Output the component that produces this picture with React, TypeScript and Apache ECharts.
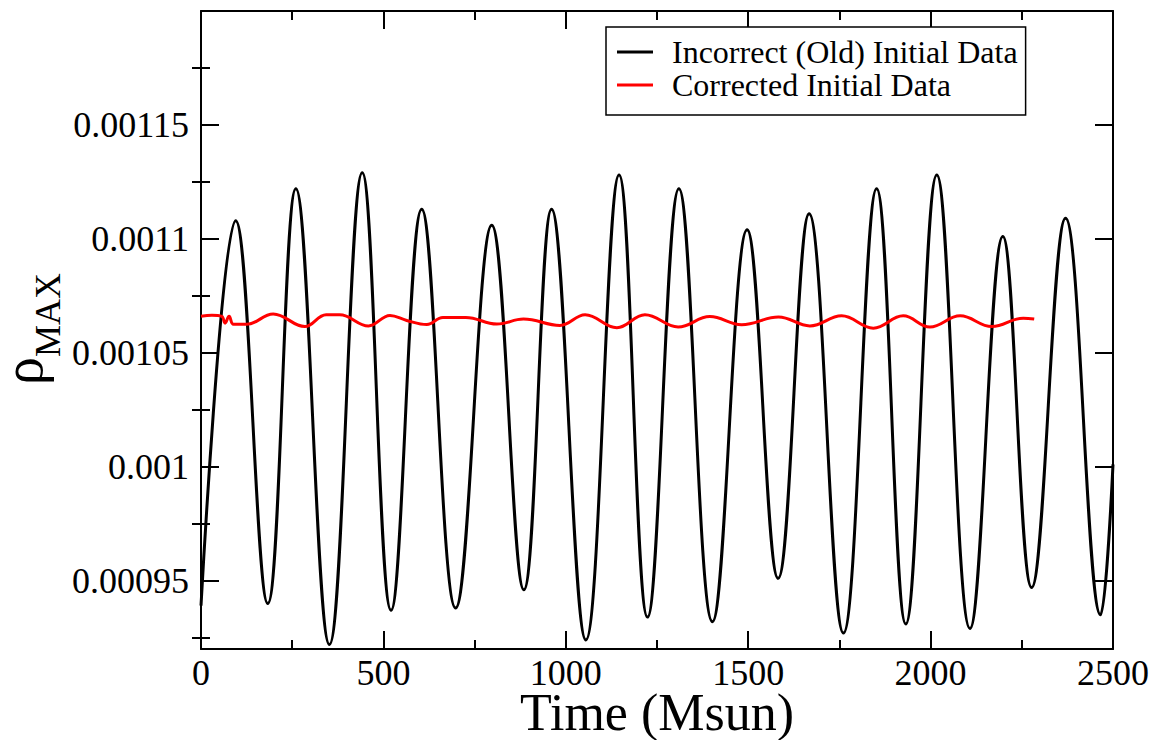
import React, { useEffect, useRef } from "react";
import * as echarts from "echarts";

// Incorrect (Old) Initial Data: time (Msun) and rho_max at the extrema
const oldTime = [0, 95, 183, 260, 352, 442, 521, 605, 698, 797, 885, 961, 1055, 1146, 1224, 1310, 1402, 1497, 1582, 1667, 1761, 1852, 1932, 2017, 2108, 2198, 2277, 2370, 2466, 2500];
const oldRho = [0.000939, 0.001108, 0.00094, 0.001122, 0.000922, 0.001129, 0.000937, 0.001113, 0.000938, 0.001106, 0.000946, 0.001113, 0.000924, 0.001128, 0.000934, 0.001122, 0.000932, 0.001104, 0.000951, 0.001111, 0.000927, 0.001122, 0.000931, 0.001128, 0.000929, 0.001101, 0.000947, 0.001109, 0.000935, 0.001001];

// Corrected Initial Data
const newTime = [0, 30, 57, 66, 77, 89, 125, 198, 285, 343, 380, 459, 518, 564, 619, 663, 726, 811, 884, 984, 1053, 1140, 1217, 1308, 1395, 1482, 1583, 1669, 1756, 1843, 1925, 1998, 2081, 2168, 2254, 2284];
const newRho = [0.001066, 0.0010665, 0.001066, 0.001063, 0.001066, 0.0010625, 0.0010625, 0.001067, 0.0010615, 0.0010667, 0.0010667, 0.0010618, 0.0010664, 0.0010642, 0.0010624, 0.0010655, 0.0010655, 0.0010626, 0.0010648, 0.001062, 0.0010667, 0.001061, 0.0010667, 0.0010613, 0.0010659, 0.0010623, 0.0010657, 0.0010618, 0.0010662, 0.0010608, 0.0010662, 0.0010613, 0.0010662, 0.0010615, 0.0010652, 0.0010648];

const seriesNames = ["Incorrect (Old) Initial Data", "Corrected Initial Data"];
const seriesColors = ["#000000", "#ff0000"];

const xMin = 0;
const xMax = 2500;
const xInterval = 500;
const yMin = 0.00092;
const yMax = 0.0012;
const yMajorTicks = [0.00095, 0.001, 0.00105, 0.0011, 0.00115];
const yMinorTicks = [0.000925, 0.000975, 0.001025, 0.001075, 0.001125, 0.001175];

const xTitle = "Time (Msun)";
const yTitleMain = "ρ";
const yTitleSub = "MAX";

export default function App() {
  const ref = useRef<HTMLDivElement>(null);
  useEffect(() => {
    if (!ref.current) return;
    const chart = echarts.init(ref.current, null, { renderer: "svg" });
    const fontFamily = "Liberation Serif";
    const black = "#000";
    const lineStyle = { color: black, width: 2 };
    const majorTick = { show: true, inside: true, length: 18, lineStyle };
    const fmtY = (v: number) => parseFloat(Number(v).toPrecision(6)).toString();
    const fmtX = (v: number) => String(Math.round(Number(v)));

    const xBase: any = {
      type: "value",
      min: xMin,
      max: xMax,
      interval: xInterval,
      splitLine: { show: false },
      axisLine: { show: true, onZero: false, lineStyle },
      axisTick: majorTick,
      minorTick: { show: true, splitNumber: 2, length: 9, lineStyle },
    };
    const yBase: any = {
      type: "value",
      min: yMin,
      max: yMax,
      splitLine: { show: false },
    };

    chart.setOption({
      animation: false,
      backgroundColor: "#ffffff",
      grid: { left: 201, right: 46, top: 11, bottom: 91, containLabel: false, outerBoundsMode: "none" },
      xAxis: [
        {
          ...xBase,
          position: "bottom",
          axisLabel: { fontFamily, fontSize: 36, lineHeight: 36, color: black, margin: 6, formatter: fmtX },
          name: xTitle,
          nameLocation: "middle",
          nameGap: 43,
          nameMoveOverlap: false,
          nameTextStyle: { fontFamily, fontSize: 52, lineHeight: 40, color: black },
        },
        { ...xBase, position: "top", axisLabel: { show: false } },
      ],
      yAxis: [
        {
          ...yBase,
          position: "left",
          axisLine: { show: true, onZero: false, lineStyle },
          axisTick: { ...majorTick, customValues: yMajorTicks },
          axisLabel: { customValues: yMajorTicks, formatter: fmtY, fontFamily, fontSize: 36, color: black, margin: 12 },
        },
        {
          ...yBase,
          position: "left",
          axisLine: { show: false },
          axisTick: { show: true, inside: true, length: 9, lineStyle, customValues: yMinorTicks },
          axisLabel: { show: false },
        },
        {
          ...yBase,
          position: "right",
          axisLine: { show: true, onZero: false, lineStyle },
          axisTick: { ...majorTick, customValues: yMajorTicks },
          axisLabel: { show: false },
        },
        {
          ...yBase,
          position: "right",
          axisLine: { show: false },
          axisTick: { show: true, inside: true, length: 9, lineStyle, customValues: yMinorTicks },
          axisLabel: { show: false },
        },
      ],
      legend: {
        orient: "vertical",
        left: 606,
        top: 27,
        padding: [9, 8, 14, 11],
        itemGap: 1,
        itemWidth: 36,
        itemHeight: 3,
        borderColor: black,
        borderWidth: 1.5,
        borderRadius: 0,
        backgroundColor: "#ffffff",
        textStyle: { fontFamily, fontSize: 32, color: black, padding: [0, 0, 0, 14] },
        data: seriesNames.map((n) => ({ name: n, icon: "rect" })),
      },
      graphic: [
        {
          type: "text",
          x: 23,
          y: 385,
          rotation: Math.PI / 2,
          style: { text: yTitleMain, font: `56px '${fontFamily}'`, fill: black, textAlign: "left", align: "left", textVerticalAlign: "middle", verticalAlign: "middle" },
        },
        {
          type: "text",
          x: 48,
          y: 357,
          rotation: Math.PI / 2,
          style: { text: yTitleSub, font: `36px '${fontFamily}'`, fill: black, textAlign: "left", align: "left", textVerticalAlign: "middle", verticalAlign: "middle" },
        },
      ],
      series: [
        {
          name: seriesNames[0],
          type: "line",
          xAxisIndex: 0,
          yAxisIndex: 0,
          data: oldTime.map((t, i) => [t, oldRho[i]]),
          smooth: 0.4,
          showSymbol: false,
          color: seriesColors[0],
          itemStyle: { color: seriesColors[0] },
          lineStyle: { color: seriesColors[0], width: 3 },
          z: 2,
        },
        {
          name: seriesNames[1],
          type: "line",
          xAxisIndex: 0,
          yAxisIndex: 0,
          data: newTime.map((t, i) => [t, newRho[i]]),
          smooth: 0.4,
          showSymbol: false,
          color: seriesColors[1],
          itemStyle: { color: seriesColors[1] },
          lineStyle: { color: seriesColors[1], width: 3 },
          z: 3,
        },
      ],
    });
    return () => chart.dispose();
  }, []);
  return <div ref={ref} style={{ position: "fixed", left: 0, top: 0, width: 1159, height: 740 }} />;
}
